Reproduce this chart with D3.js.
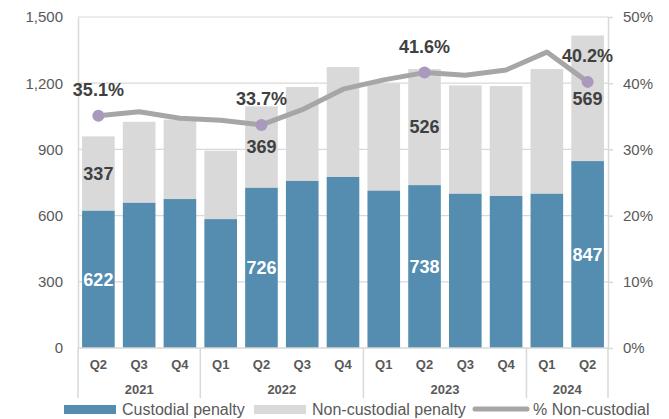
<!DOCTYPE html>
<html><head><meta charset="utf-8">
<script src="https://cdn.jsdelivr.net/npm/d3@7"></script>
<style>body{margin:0;background:#fff}svg{display:block;font-family:"Liberation Sans",Arial,sans-serif}</style>
</head><body><svg id="c" width="669" height="419"></svg>
<script>
const quarters = ["Q2","Q3","Q4","Q1","Q2","Q3","Q4","Q1","Q2","Q3","Q4","Q1","Q2"];
const years = ["2021","2021","2021","2022","2022","2022","2022","2023","2023","2023","2023","2024","2024"];
const custodial = [622,658,675,584,726,757,775,713,738,699,689,699,847];
const nonCustodial = [337,367,360,310,369,426,498,486,526,491,498,565,569];
const pctNonCustodial = [35.1,35.7,34.7,34.4,33.7,36.0,39.1,40.5,41.6,41.2,42.0,44.7,40.2];
const leftTicks = [0,300,600,900,1200,1500];
const rightTicks = [0,10,20,30,40,50];
const labeled = [0,4,8,12];

const svg = d3.select("#c");
const m = {l:78, r:608, t:17, b:348};
const idx = d3.range(quarters.length);
const x = d3.scaleBand().domain(idx).range([m.l, m.r]).paddingInner(0.2).paddingOuter(0.1);
const y = d3.scaleLinear().domain([0,1500]).range([m.b, m.t]);
const y2 = d3.scaleLinear().domain([0,50]).range([m.b, m.t]);
const grey = "#d9d9d9", txt = "#595959", dark = "#404040";

// gridlines
svg.append("g").selectAll("line").data(leftTicks.filter(d=>d>0)).join("line")
  .attr("x1", m.l).attr("x2", m.r).attr("y1", d=>y(d)).attr("y2", d=>y(d))
  .attr("stroke", grey).attr("stroke-width", 1.2);

// left axis
const la = svg.append("g").attr("transform", `translate(${m.l},0)`)
  .call(d3.axisLeft(y).tickValues(leftTicks).tickFormat(d3.format(",")).tickSize(0).tickPadding(15));
la.select(".domain").attr("stroke", grey).attr("stroke-width", 1.5);
la.selectAll("text").attr("font-size", 15).attr("fill", txt).attr("font-family", "Liberation Sans, Arial");

// right axis
const ra = svg.append("g").attr("transform", `translate(${m.r},0)`)
  .call(d3.axisRight(y2).tickValues(rightTicks).tickFormat(d=>d+"%").tickSize(5).tickPadding(10).tickSizeOuter(0));
ra.select(".domain").attr("stroke", grey).attr("stroke-width", 1.5);
ra.selectAll(".tick line").attr("stroke", grey).attr("stroke-width", 1.5);
ra.selectAll("text").attr("font-size", 15).attr("fill", txt).attr("font-family", "Liberation Sans, Arial");

// bars
svg.append("g").selectAll("rect").data(idx).join("rect")
  .attr("x", i=>x(i)).attr("width", x.bandwidth())
  .attr("y", i=>y(custodial[i]+nonCustodial[i])).attr("height", i=>y(custodial[i])-y(custodial[i]+nonCustodial[i]))
  .attr("fill", "#d9d9d9");
svg.append("g").selectAll("rect").data(idx).join("rect")
  .attr("x", i=>x(i)).attr("width", x.bandwidth())
  .attr("y", i=>y(custodial[i])).attr("height", i=>y(0)-y(custodial[i]))
  .attr("fill", "#548db0");

// x axis baseline
svg.append("line").attr("x1", m.l).attr("x2", m.r).attr("y1", m.b).attr("y2", m.b).attr("stroke", grey).attr("stroke-width", 1.5);

// category labels
const cx = i => x(i) + x.bandwidth()/2;
svg.append("g").selectAll("text").data(idx).join("text")
  .attr("x", cx).attr("y", 369).attr("text-anchor", "middle")
  .attr("font-size", 13).attr("font-weight", "bold").attr("fill", txt).text(i=>quarters[i]);
const groups = d3.groups(idx, i=>years[i]);
const step = x.step();
const bounds = [];
groups.forEach(([yr, arr], gi) => {
  const x0 = m.l + arr[0]*step, x1 = m.l + (arr[arr.length-1]+1)*step;
  svg.append("text").attr("x", (x0+x1)/2).attr("y", 394).attr("text-anchor","middle")
    .attr("font-size", 13).attr("font-weight","bold").attr("fill", txt).text(yr);
  if (gi===0) bounds.push(x0);
  bounds.push(x1);
});
svg.append("g").selectAll("line").data(bounds).join("line")
  .attr("x1", d=>d).attr("x2", d=>d).attr("y1", m.b).attr("y2", 398)
  .attr("stroke", grey).attr("stroke-width", 1.5);

// line
const line = d3.line().x(i=>cx(i)).y(i=>y2(pctNonCustodial[i]));
svg.append("path").datum(idx).attr("d", line).attr("fill","none")
  .attr("stroke", "#a6a6a6").attr("stroke-width", 5).attr("stroke-linejoin","round");
svg.append("g").selectAll("circle").data(labeled).join("circle")
  .attr("cx", cx).attr("cy", i=>y2(pctNonCustodial[i])).attr("r", 6).attr("fill", "#a899bd");

// data labels
const lg = svg.append("g").attr("font-size", 18).attr("font-weight","bold").attr("text-anchor","middle");
lg.selectAll(".pct").data(labeled).join("text")
  .attr("x", cx).attr("y", i=>y2(pctNonCustodial[i]) - 26).attr("dy","0.35em")
  .attr("fill", dark).text(i=>pctNonCustodial[i].toFixed(1)+"%");
lg.selectAll(".nc").data(labeled).join("text")
  .attr("x", cx).attr("y", i=>y(custodial[i] + nonCustodial[i]/2)).attr("dy","0.35em")
  .attr("fill", dark).text(i=>nonCustodial[i]);
lg.selectAll(".cu").data(labeled).join("text")
  .attr("x", cx).attr("y", i=>y(custodial[i]/2)).attr("dy","0.35em")
  .attr("fill", "#fff").text(i=>custodial[i]);

// legend
const leg = svg.append("g").attr("font-size", 16).attr("fill", txt);
leg.append("rect").attr("x", 64).attr("y", 405).attr("width", 52).attr("height", 9).attr("fill", "#548db0");
leg.append("text").attr("x", 122).attr("y", 409).attr("dy","0.35em").text("Custodial penalty");
leg.append("rect").attr("x", 254).attr("y", 405).attr("width", 52).attr("height", 9).attr("fill", "#d9d9d9");
leg.append("text").attr("x", 312).attr("y", 409).attr("dy","0.35em").text("Non-custodial penalty");
leg.append("line").attr("x1", 475).attr("x2", 527).attr("y1", 409).attr("y2", 409).attr("stroke","#a6a6a6").attr("stroke-width",5).attr("stroke-linecap","round");
leg.append("text").attr("x", 533).attr("y", 409).attr("dy","0.35em").text("% Non-custodial");
</script></body></html>
